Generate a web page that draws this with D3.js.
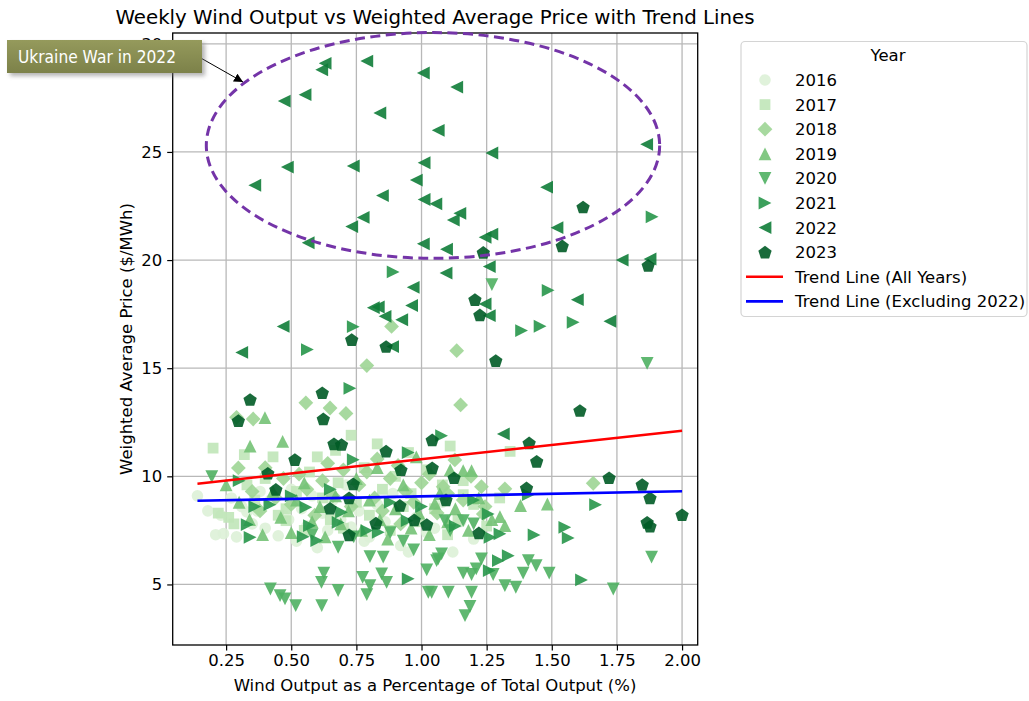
<!DOCTYPE html>
<html>
<head>
<meta charset="utf-8">
<title>Weekly Wind Output vs Weighted Average Price</title>
<script src="https://d3js.org/d3.v7.min.js"></script>
<style>
  body { margin: 0; background: #fff; }
  svg text { font-family: "DejaVu Sans", sans-serif; fill: #000; }
</style>
</head>
<body>
<div id="chart"></div>
<script>
// ---- data ----
var years = ["2016", "2017", "2018", "2019", "2020", "2021", "2022", "2023"];

var pts2016 = [[0.14,9.1],[0.18,8.4],[0.21,7.3],[0.23,8.2],[0.24,7.35],[0.27,9.0],[0.29,7.2],[0.31,8.6],[0.33,8.35],
  [0.35,7.8],[0.37,8.4],[0.38,9.3],[0.40,7.6],[0.42,8.9],[0.45,7.25],[0.47,8.2],[0.49,8.0],[0.50,9.4],[0.52,7.0],
  [0.54,8.5],[0.56,7.7],[0.58,9.1],[0.60,6.7],[0.62,8.3],[0.64,7.5],[0.66,8.9],[0.69,8.0],[0.71,9.6],[0.73,7.65],
  [0.76,8.4],[0.78,7.0],[0.80,7.2],[0.83,8.7],[0.86,7.9],[0.89,9.2],[0.92,6.8],[0.95,6.5],[0.98,8.1],[1.02,7.4],
  [1.05,7.6],[1.08,8.8],[1.12,6.5],[1.15,7.9],[1.20,7.1]];

var pts2017 = [[0.20,11.3],[0.22,8.3],[0.26,8.1],[0.28,7.8],[0.32,11.0],[0.33,9.6],[0.36,8.9],[0.40,9.9],[0.43,10.9],
  [0.45,8.2],[0.48,7.95],[0.48,8.5],[0.52,9.3],[0.55,7.5],[0.57,10.2],[0.60,10.9],[0.62,9.0],[0.65,8.0],[0.68,9.7],
  [0.70,7.6],[0.73,11.9],[0.75,8.8],[0.78,10.4],[0.80,8.2],[0.83,11.5],[0.85,9.4],[0.88,7.5],[0.90,10.0],[0.93,8.6],
  [0.96,9.2],[0.99,7.9],[1.02,10.3],[1.05,8.5],[1.08,9.6],[1.11,11.4],[1.14,8.0],[1.16,9.8],[1.16,9.15],[1.20,8.7],
  [1.25,7.7],[1.30,9.0],[1.34,11.15],[1.10,7.3],[0.95,11.1],[0.67,11.2]];

var pts2018 = [[0.29,12.73],[0.354,12.65],[0.556,13.4],[0.649,13.16],[0.71,12.91],[1.15,13.3],[0.885,16.93],[1.135,15.81],
  [0.79,15.12],[0.297,10.39],[1.128,10.76],[1.083,9.52],[1.23,9.52],[1.32,9.42],[1.659,9.68],[1.244,8.6],[1.237,8.26],
  [0.35,9.3],[0.40,10.4],[0.44,9.0],[0.47,9.9],[0.50,8.7],[0.53,10.1],[0.56,9.4],[0.59,8.2],[0.62,9.8],[0.66,9.1],
  [0.70,10.3],[0.73,8.6],[0.76,9.6],[0.79,10.2],[0.82,9.0],[0.85,8.4],[0.88,9.9],[0.91,10.5],[0.94,9.3],[0.97,8.8],
  [1.00,9.7],[1.03,10.1],[1.06,8.3],[1.10,9.2],[1.16,8.9],[0.64,10.6],[0.83,10.8],[1.19,10.0],[0.38,8.4],[0.92,7.8]];

var pts2019 = [[0.342,11.4],[0.399,12.71],[0.467,11.62],[1.16,10.26],[1.192,10.26],[1.051,8.75],[1.38,8.65],[1.483,8.72],
  [1.301,8.14],[1.32,7.72],[0.25,9.6],[0.30,8.8],[0.34,8.0],[0.39,7.3],[0.43,9.3],[0.46,8.1],[0.50,7.4],[0.52,8.9],
  [0.55,9.7],[0.58,7.9],[0.61,8.6],[0.63,7.2],[0.67,9.1],[0.69,7.8],[0.72,8.4],[0.75,9.9],[0.77,7.5],[0.80,8.9],
  [0.84,8.0],[0.87,7.1],[0.90,8.5],[0.93,9.6],[0.96,7.6],[0.99,8.3],[1.03,7.3],[1.07,9.2],[1.10,7.9],[1.13,8.5],
  [1.18,7.5],[1.22,9.0],[1.27,8.0],[0.83,10.4],[0.98,10.9],[1.11,10.3]];

var pts2020 = [[0.195,9.99],[0.42,4.79],[0.457,4.48],[0.476,4.33],[0.517,4.02],[0.617,4.02],[0.616,5.1],[0.625,5.52],
  [0.68,4.72],[0.68,6.72],[0.774,5.33],[0.79,4.53],[0.802,4.95],[0.802,6.29],[0.847,5.49],[0.853,6.26],[0.866,5.1],
  [1.02,5.67],[1.026,4.64],[1.064,6.18],[1.039,4.64],[1.103,4.64],[1.16,5.52],[1.167,3.56],[1.186,3.98],[1.192,4.64],
  [1.192,5.46],[1.21,5.72],[1.23,6.18],[1.275,5.46],[1.32,4.95],[1.362,4.87],[1.39,5.52],[1.41,6.1],[1.44,5.87],
  [1.49,5.52],[1.736,4.79],[1.883,6.26],[1.866,15.22],[1.27,18.86],[1.09,7.95],[1.11,7.49],[1.16,7.95],[1.2,7.8],
  [1.077,6.41],[1.058,6.1],[0.93,7.0],[0.97,6.6],[0.88,7.4],[0.74,7.2],[0.58,7.3]];

var pts2021 = [[0.331,7.77],[0.342,7.18],[0.36,8.6],[0.418,8.69],[0.556,8.57],[0.57,7.72],[0.546,7.21],[0.598,7.03],
  [0.68,7.87],[0.693,8.34],[0.79,7.49],[0.834,7.41],[0.945,7.95],[0.949,5.26],[0.725,14.07],[0.738,10.77],[0.949,11.1],
  [0.562,15.86],[0.738,16.92],[1.384,16.74],[1.455,16.94],[1.582,17.12],[1.486,18.6],[1.885,22.0],[0.891,19.45],
  [1.077,11.88],[1.41,9.15],[1.668,8.69],[1.256,8.26],[1.55,7.64],[1.563,7.15],[1.432,7.29],[1.263,7.18],[1.301,7.34],
  [1.333,6.33],[1.295,6.1],[1.26,5.64],[1.614,5.21],[0.30,9.8],[0.50,9.1],[0.88,8.8],[1.0,8.6],[1.13,7.7],[1.2,8.9],
  [0.65,9.4]];

var pts2022 = [[0.63,29.1],[0.617,28.8],[0.79,29.2],[1.007,28.65],[1.135,28.0],[0.553,27.65],[0.473,27.35],[0.84,26.8],
  [1.064,26.0],[1.864,25.35],[1.27,24.95],[0.485,24.3],[0.738,24.35],[1.01,24.5],[0.98,23.7],[0.36,23.46],[1.48,23.37],
  [0.85,22.98],[1.01,22.8],[1.055,22.6],[1.147,22.16],[1.122,21.85],[0.776,21.97],[0.732,21.55],[1.52,21.5],[1.27,21.2],
  [1.244,21.05],[0.565,20.8],[1.007,20.75],[1.096,20.5],[1.77,20.0],[1.877,20.05],[1.26,19.7],[1.094,19.4],
  [0.968,18.74],[1.598,18.17],[0.815,17.8],[0.834,17.83],[0.962,17.9],[1.244,17.97],[0.86,17.4],[0.924,17.24],
  [1.26,17.43],[0.469,16.93],[1.723,17.17],[0.889,16.0],[0.31,15.73],[1.314,11.96]];

var pts2023 = [[1.62,22.45],[1.54,20.65],[1.237,20.35],[1.87,19.75],[1.205,18.17],[1.224,17.46],[0.732,16.32],[0.864,16.0],
  [1.285,15.35],[0.619,13.86],[0.342,13.55],[1.608,13.04],[0.623,12.65],[0.297,12.57],[0.664,11.5],[0.693,11.47],
  [0.514,10.77],[0.864,11.16],[1.041,11.68],[0.41,10.14],[0.921,10.3],[1.041,10.39],[0.441,9.39],[0.738,9.65],
  [0.722,9.0],[0.649,8.52],[0.917,8.65],[0.825,7.83],[0.972,7.98],[1.02,7.77],[0.722,7.29],[1.413,11.54],[1.442,10.69],
  [1.125,9.93],[1.403,9.46],[1.72,9.93],[1.847,9.62],[1.877,9.0],[2.0,8.22],[1.866,7.87],[1.877,7.69],[1.094,8.91],
  [1.22,7.38]];

var series = [pts2016, pts2017, pts2018, pts2019, pts2020, pts2021, pts2022, pts2023];

var trendX = [0.14, 2.0];
var trendAll = [9.66, 12.11];
var trendExcl = [8.87, 9.31];

var xTicks = [0.25, 0.50, 0.75, 1.00, 1.25, 1.50, 1.75, 2.00];
var yTicks = [5, 10, 15, 20, 25, 30];

// war ellipse (centre and half axes in data units)
var ellCenter = [1.044, 25.3];
var ellHalf = [0.87, 5.22];

// ---- styles ----
var colors = ["#ddf1d7", "#c0e6b8", "#9dd595", "#74c276", "#4fb062", "#27964a", "#0f7d38", "#005b26"];
var shapes = ["circle", "square", "diamond", "up", "down", "right", "left", "pentagon"];

var W = 1029, H = 701;
var x = d3.scaleLinear().domain([0.045, 2.06]).range([172.7, 697.7]);
var y = d3.scaleLinear().domain([2.2, 30.5]).range([645, 33]);

var svg = d3.select("#chart").append("svg")
    .attr("width", W).attr("height", H);

svg.append("defs").append("clipPath").attr("id", "plotclip")
  .append("rect").attr("x", x.range()[0]).attr("y", y.range()[1])
    .attr("width", x.range()[1] - x.range()[0]).attr("height", y.range()[0] - y.range()[1]);

function marker(shape, s) {
  s = s || 1;
  var p;
  switch (shape) {
    case "circle": {
      var r = 5.8 * s;
      return "M" + r + ",0A" + r + "," + r + " 0 1,1 " + (-r) + ",0A" + r + "," + r + " 0 1,1 " + r + ",0Z";
    }
    case "square": { var h = 5.4 * s; p = [[-h,-h],[h,-h],[h,h],[-h,h]]; break; }
    case "diamond": { var d = 7.4 * s; p = [[0,-d],[d,0],[0,d],[-d,0]]; break; }
    case "up":    { var t = 6.4 * s; p = [[0,-t],[t,t],[-t,t]]; break; }
    case "down":  { var t2 = 6.4 * s; p = [[0,t2],[t2,-t2],[-t2,-t2]]; break; }
    case "left":  { var t3 = 6.4 * s; p = [[-t3,0],[t3,-t3],[t3,t3]]; break; }
    case "right": { var t4 = 6.4 * s; p = [[t4,0],[-t4,t4],[-t4,-t4]]; break; }
    case "pentagon": {
      var rp = 7 * s;
      p = d3.range(5).map(function(i) {
        var a = -Math.PI / 2 + i * 2 * Math.PI / 5;
        return [rp * Math.cos(a), rp * Math.sin(a) + 0.6 * s];
      });
      break;
    }
  }
  return "M" + p.map(function(q) { return q[0].toFixed(2) + "," + q[1].toFixed(2); }).join("L") + "Z";
}

// grid
var grid = svg.append("g").attr("clip-path", "url(#plotclip)");
grid.selectAll("line.gx").data(xTicks).enter().append("line")
    .attr("x1", function(d) { return x(d); }).attr("x2", function(d) { return x(d); })
    .attr("y1", y.range()[0]).attr("y2", y.range()[1])
    .attr("stroke", "#b8b8b8").attr("stroke-width", 1.3);
grid.selectAll("line.gy").data(yTicks).enter().append("line")
    .attr("y1", function(d) { return y(d); }).attr("y2", function(d) { return y(d); })
    .attr("x1", x.range()[0]).attr("x2", x.range()[1])
    .attr("stroke", "#b8b8b8").attr("stroke-width", 1.3);

// points
var plot = svg.append("g").attr("clip-path", "url(#plotclip)");
series.forEach(function(pts, i) {
  plot.append("g").selectAll("path").data(pts).enter().append("path")
      .attr("d", marker(shapes[i]))
      .attr("transform", function(d) { return "translate(" + x(d[0]) + "," + y(d[1]) + ")"; })
      .attr("fill", colors[i])
      .attr("fill-opacity", 0.9);
});

// trend lines
var line = d3.line().x(function(d) { return x(d[0]); }).y(function(d) { return y(d[1]); });
plot.append("path").datum(trendX.map(function(v, i) { return [v, trendAll[i]]; }))
    .attr("d", line).attr("stroke", "#ff0000").attr("stroke-width", 2.6).attr("fill", "none");
plot.append("path").datum(trendX.map(function(v, i) { return [v, trendExcl[i]]; }))
    .attr("d", line).attr("stroke", "#0000ff").attr("stroke-width", 2.6).attr("fill", "none");

// frame
svg.append("rect")
    .attr("x", x.range()[0]).attr("y", y.range()[1])
    .attr("width", x.range()[1] - x.range()[0]).attr("height", y.range()[0] - y.range()[1])
    .attr("fill", "none").attr("stroke", "#000").attr("stroke-width", 1.3);

// axes
var xAxis = svg.append("g").attr("transform", "translate(0," + y.range()[0] + ")")
    .call(d3.axisBottom(x).tickValues(xTicks).tickFormat(d3.format(".2f")).tickSize(5.5).tickPadding(4));
var yAxis = svg.append("g").attr("transform", "translate(" + x.range()[0] + ",0)")
    .call(d3.axisLeft(y).tickValues(yTicks).tickSize(5.5).tickPadding(5));
[xAxis, yAxis].forEach(function(a) {
  a.select(".domain").remove();
  a.selectAll(".tick line").attr("stroke", "#000").attr("stroke-width", 1.2);
  a.selectAll(".tick text").attr("font-family", "DejaVu Sans").attr("font-size", 16.5).attr("fill", "#000");
});

// titles
svg.append("text").attr("x", 435).attr("y", 23.5).attr("text-anchor", "middle")
    .attr("font-size", 19.8).text("Weekly Wind Output vs Weighted Average Price with Trend Lines");
svg.append("text").attr("x", 435).attr("y", 691).attr("text-anchor", "middle")
    .attr("font-size", 16.5).text("Wind Output as a Percentage of Total Output (%)");
svg.append("text").attr("transform", "translate(132,339) rotate(-90)").attr("text-anchor", "middle")
    .attr("font-size", 16.5).text("Weighted Average Price ($/MWh)");

// ellipse
svg.append("ellipse")
    .attr("cx", x(ellCenter[0])).attr("cy", y(ellCenter[1]))
    .attr("rx", x(ellCenter[0] + ellHalf[0]) - x(ellCenter[0]))
    .attr("ry", y(ellCenter[1] - ellHalf[1]) - y(ellCenter[1]))
    .attr("fill", "none").attr("stroke", "#7434a8").attr("stroke-width", 3)
    .attr("stroke-dasharray", "10,5.5");

// legend
var lg = svg.append("g");
lg.append("rect").attr("x", 741).attr("y", 41.5).attr("width", 286).attr("height", 275).attr("rx", 4)
    .attr("fill", "#fff").attr("fill-opacity", 0.85).attr("stroke", "#d4d4d4").attr("stroke-width", 1.2);
lg.append("text").attr("x", 888).attr("y", 61).attr("text-anchor", "middle").attr("font-size", 16.5).text("Year");
years.forEach(function(yr, i) {
  var cy = 80 + i * 24.6;
  lg.append("path").attr("d", marker(shapes[i])).attr("transform", "translate(765," + cy + ")")
      .attr("fill", colors[i]).attr("fill-opacity", 0.9);
  lg.append("text").attr("x", 795).attr("y", cy + 6).attr("font-size", 16.5).text(yr);
});
[["Trend Line (All Years)", "#ff0000"], ["Trend Line (Excluding 2022)", "#0000ff"]].forEach(function(t, j) {
  var cy = 80 + (8 + j) * 24.6;
  lg.append("line").attr("x1", 746).attr("x2", 783).attr("y1", cy).attr("y2", cy)
      .attr("stroke", t[1]).attr("stroke-width", 2.6);
  lg.append("text").attr("x", 795).attr("y", cy + 6).attr("font-size", 16.5).text(t[0]);
});

// annotation callout
var defs = svg.select("defs");
var grad = defs.append("linearGradient").attr("id", "olive").attr("x1", 0).attr("y1", 0).attr("x2", 0).attr("y2", 1);
grad.append("stop").attr("offset", "0%").attr("stop-color", "#959a5c");
grad.append("stop").attr("offset", "100%").attr("stop-color", "#7c8149");
var blur = defs.append("filter").attr("id", "shadow").attr("x", "-20%").attr("y", "-40%").attr("width", "140%").attr("height", "180%");
blur.append("feGaussianBlur").attr("stdDeviation", 2.2);
defs.append("marker").attr("id", "arrowhead").attr("viewBox", "0 0 10 10").attr("refX", 10).attr("refY", 5)
    .attr("markerWidth", 9).attr("markerHeight", 9).attr("markerUnits", "userSpaceOnUse").attr("orient", "auto")
  .append("path").attr("d", "M0,0L10,5L0,10Z").attr("fill", "#000");

svg.append("line").attr("x1", 199).attr("y1", 57).attr("x2", 243).attr("y2", 82)
    .attr("stroke", "#000").attr("stroke-width", 1).attr("marker-end", "url(#arrowhead)");
svg.append("rect").attr("x", 10).attr("y", 43).attr("width", 195).attr("height", 33)
    .attr("fill", "#777").attr("opacity", 0.55).attr("filter", "url(#shadow)");
svg.append("rect").attr("x", 7).attr("y", 40).attr("width", 195).attr("height", 33)
    .attr("fill", "url(#olive)");
svg.append("text").attr("x", 18).attr("y", 63).attr("font-family", "Liberation Sans, Arial, sans-serif")
    .attr("font-size", 17).attr("textLength", 158).attr("lengthAdjust", "spacingAndGlyphs")
    .style("fill", "#fff").text("Ukraine War in 2022");
</script>
</body>
</html>
